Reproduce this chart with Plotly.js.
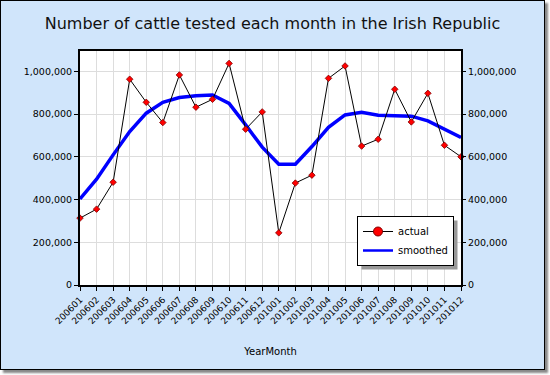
<!DOCTYPE html>
<html>
<head>
<meta charset="utf-8">
<script src="https://cdn.plot.ly/plotly-3.0.1.min.js"></script>
<style>
  html, body { margin: 0; padding: 0; background: #ffffff; }
  #wrap { position: absolute; left: 0; top: 0; width: 543px; height: 368px; border: 1px solid #000;
          box-shadow: 3px 3px 2px #888; background: #D0E5FB; }
  #chart { width: 543px; height: 368px; }
</style>
</head>
<body>
<div id="wrap"><div id="chart"></div></div>
<script>
const months = ['200601','200602','200603','200604','200605','200606','200607','200608','200609','200610','200611','200612',
                '201001','201002','201003','201004','201005','201006','201007','201008','201009','201010','201011','201012'];
const actual = [313000, 355000, 481000, 963000, 855000, 760000, 983000, 832000, 869000, 1037000, 729000, 810000,
                244000, 477000, 514000, 967000, 1025000, 650000, 682000, 916000, 763000, 897000, 654000, 600000];
const smoothed = [403000, 495000, 609000, 718000, 804000, 855000, 877000, 886000, 889000, 850000, 749000, 645000,
                  565000, 565000, 648000, 738000, 796000, 808000, 794000, 791000, 790000, 768000, 730000, 690000];
const dividerMonth = '201001';
const yMax = 1095000;

const font = 'DejaVu Sans, Verdana, sans-serif';

const traces = [
  { x: months, y: smoothed, type: 'scatter', mode: 'lines', name: 'smoothed',
    line: { color: '#0000FF', width: 3.5 }, showlegend: false, cliponaxis: false },
  { x: months, y: actual, type: 'scatter', mode: 'lines+markers', name: 'actual',
    line: { color: '#000000', width: 1 },
    marker: { symbol: 'diamond', size: 5, color: '#FF0000', line: { color: '#800000', width: 0.8 } },
    showlegend: false, cliponaxis: false },
  { x: [null], y: [null], type: 'scatter', mode: 'lines+markers', name: 'actual',
    line: { color: '#000000', width: 1 },
    marker: { symbol: 'circle', size: 9, color: '#FF0000', line: { color: '#800000', width: 1 } } },
  { x: [null], y: [null], type: 'scatter', mode: 'lines', name: 'smoothed', yaxis: 'y2',
    line: { color: '#0000FF', width: 2.5 } }
];

const axisCommon = {
  range: [0, yMax], dtick: 200000, tickformat: ',d', ticks: 'outside', ticklen: 4, tickcolor: '#000',
  tickfont: { family: font, size: 9.5, color: '#000' }, showgrid: true, gridcolor: '#DDDDDD', zeroline: false
};

const layout = {
  width: 543, height: 368,
  paper_bgcolor: '#D0E5FB', plot_bgcolor: '#FFFFFF',
  margin: { l: 79, r: 83, t: 50, b: 84 },
  title: { text: 'Number of cattle tested each month in the Irish Republic',
           font: { family: font, size: 16, color: '#111' }, x: 0.5, xanchor: 'center',
           y: 1 - 22 / 368, yref: 'container', yanchor: 'middle' },
  xaxis: { type: 'category', categoryorder: 'array', categoryarray: months, range: [0, months.length - 1],
           tickangle: -45, ticks: 'outside', ticklen: 4, tickcolor: '#000',
           tickfont: { family: font, size: 9, color: '#000' },
           showgrid: true, gridcolor: '#DDDDDD', showline: true, linecolor: '#000', linewidth: 2, mirror: true,
           title: { text: 'YearMonth', font: { family: font, size: 10, color: '#000' }, standoff: 23 } },
  yaxis: Object.assign({}, axisCommon, { showline: true, linecolor: '#000', linewidth: 2, mirror: true }),
  yaxis2: Object.assign({}, axisCommon, { overlaying: 'y', side: 'right', showgrid: false, showline: false }),
  legend: { x: (357 - 80) / 381, y: (285 - 216) / 234, xanchor: 'left', yanchor: 'top',
            bgcolor: '#FFFFFF', bordercolor: '#000', borderwidth: 1, itemwidth: 30,
            font: { family: font, size: 10, color: '#000' }, tracegroupgap: 0 },
  shapes: [
    { type: 'line', xref: 'x', yref: 'paper', x0: dividerMonth, x1: dividerMonth, y0: 0, y1: 1,
      line: { color: '#000', width: 1 }, layer: 'between' },
    { type: 'rect', xref: 'paper', yref: 'paper', x0: (361 - 80) / 381, x1: (458 - 80) / 381,
      y0: (285 - 267) / 234, y1: (285 - 220) / 234, fillcolor: '#999999', line: { width: 0 }, layer: 'above' }
  ]
};

Plotly.newPlot('chart', traces, layout, { displayModeBar: false, staticPlot: true }).then(function (gd) {
  const bg = gd.querySelector('g.legend rect.bg');
  if (!bg) return;
  const r = bg.getBoundingClientRect();
  const g = gd.getBoundingClientRect();
  if (!r.width) return;
  const s = gd._fullLayout._size;
  const off = 4;
  const left = r.left - g.left + off, right = r.right - g.left + off;
  const top = r.top - g.top + off, bottom = r.bottom - g.top + off;
  Plotly.relayout(gd, {
    'shapes[1].x0': (left - s.l) / s.w, 'shapes[1].x1': (right - s.l) / s.w,
    'shapes[1].y0': 1 - (bottom - s.t) / s.h, 'shapes[1].y1': 1 - (top - s.t) / s.h
  });
});
</script>
</body>
</html>
